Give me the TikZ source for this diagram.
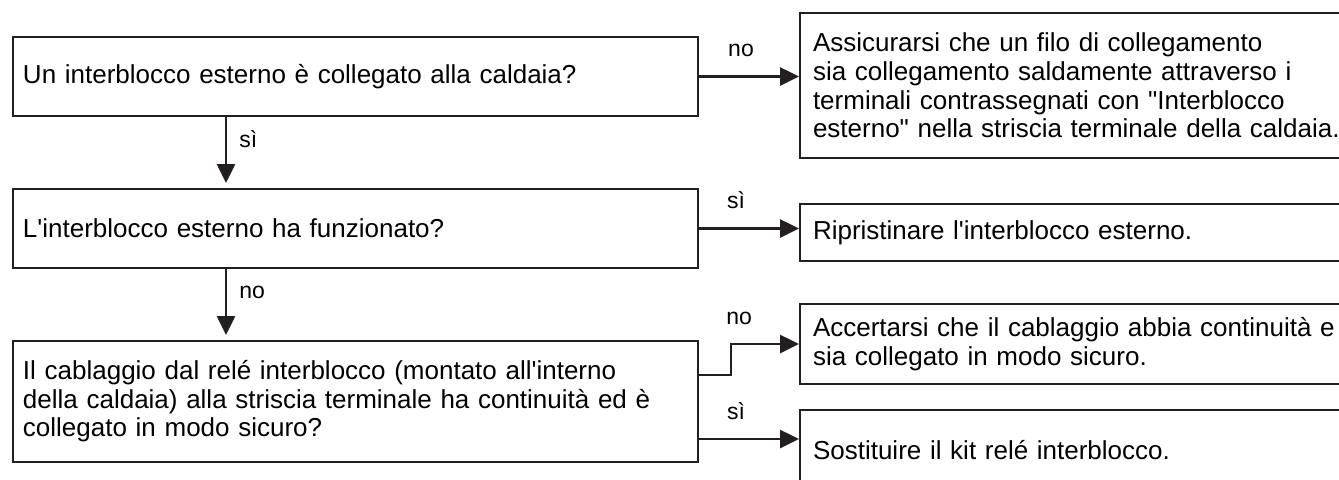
\documentclass[tikz,border=0pt]{standalone}
\usepackage{fontspec}
\setmainfont{Liberation Sans}[Ligatures=TeXOff]
\usetikzlibrary{arrows.meta}
\definecolor{inkline}{HTML}{231F20}
\tikzset{
    box/.style={draw=inkline, line width=1pt, anchor=north west, align=left,
        inner ysep=0pt, font=\fontsize{13}{14.3}\selectfont},
    qbox/.style={box, inner xsep=5pt, text width=332.5pt},
    rbox/.style={box, inner xsep=6.5pt, text width=272pt},
    flow/.style={draw=inkline, line width=1.3pt, -{Triangle[length=9.5pt,width=9pt]}},
    drop/.style={flow, shorten >=2.5pt},
    ans/.style={inner sep=0pt, font=\fontsize{11.5}{13}\selectfont}
}
\begin{document}
\begin{tikzpicture}[x=0.5pt, y=-0.5pt]
    \useasboundingbox (0,0) rectangle (1339,479);
    % Questions
    \node[qbox, minimum height=39.5pt] (q1) at (12,36) {Un interblocco esterno è collegato alla caldaia?};
    \node[qbox, minimum height=39.5pt] (q2) at (12,188) {L'interblocco esterno ha funzionato?};
    \node[qbox, minimum height=60.5pt] (q3) at (12,340) {Il cablaggio dal relé interblocco (montato all'interno\\
        della caldaia) alla striscia terminale ha continuità ed è\\
        collegato in modo sicuro?};
    % Remedies (cut off at the right edge)
    \node[rbox, minimum height=72.5pt] (r1) at (799,12) {Assicurarsi che un filo di collegamento\\
        sia collegamento saldamente attraverso i\\
        terminali contrassegnati con "Interblocco\\
        esterno" nella striscia terminale della caldaia.};
    \node[rbox, minimum height=28.5pt] (r2) at (799,203) {Ripristinare l'interblocco esterno.};
    \node[rbox, minimum height=40pt] (r3) at (799,303) {Accertarsi che il cablaggio abbia continuità e\\
        sia collegato in modo sicuro.};
    \node[rbox, minimum height=40.5pt] (r4) at (799,409) {Sostituire il kit relé interblocco.};
    % Helper points
    \coordinate (stem) at (226,0);
    \coordinate (kink) at (731,375);
    \coordinate (low) at (760,439);
    % Down the left column
    \draw[drop] (q1.south -| stem) -- node[ans, pos=0.31, right=6pt] {sì} (q2.north -| stem);
    \draw[drop] (q2.south -| stem) -- node[ans, pos=0.33, right=6pt] {no} (q3.north -| stem);
    % Across to the remedies
    \draw[flow] (q1.east) -- node[ans, pos=0.42, above=9pt] {no} (q1.east -| r1.west);
    \draw[flow] (q2.east) -- node[ans, pos=0.37, above=9pt] {sì} (q2.east -| r2.west);
    \draw[flow] (q3.east |- kink) -- (kink) |- node[ans, pos=0.56, above=9pt] {no} (r3.west);
    \draw[flow] (q3.east |- low) -- node[ans, pos=0.37, above=9pt] {sì} (low -| r4.west);
\end{tikzpicture}
\end{document}
